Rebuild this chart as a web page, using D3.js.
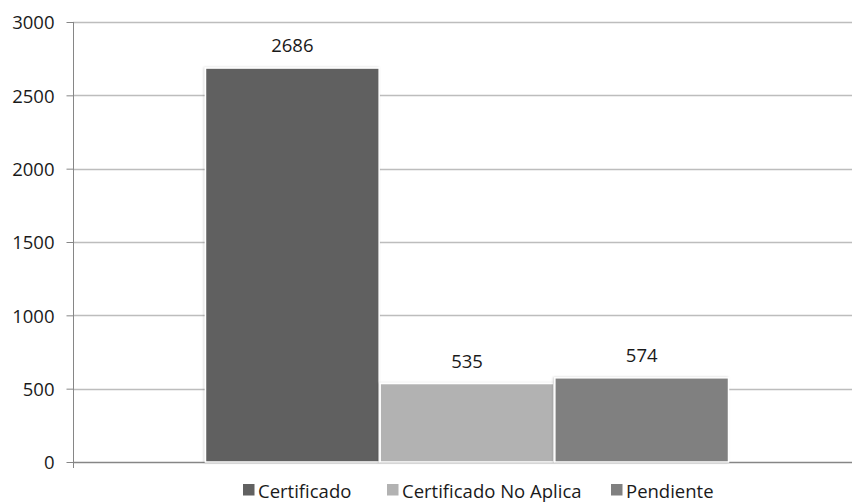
<!DOCTYPE html>
<html><head><meta charset="utf-8">
<script src="https://cdn.jsdelivr.net/npm/d3@7"></script>
<style>body{margin:0;background:#fff}svg{display:block}text{font-family:"Open Sans",sans-serif;fill:#1a1a1a}</style>
</head><body><svg id="c" width="852" height="502"></svg>
<script>
const categories = [""];
const seriesNames = ["Certificado", "Certificado No Aplica", "Pendiente"];
const seriesValues = [2686, 535, 574];
const seriesColors = ["#616161", "#b2b2b2", "#808080"];
const yTicks = [0, 500, 1000, 1500, 2000, 2500, 3000];

(function(){
const svg = d3.select("#c");
const pL = 73, pR = 861, pT = 22, pB = 462;
const fs = "18.5px";
const y = d3.scaleLinear().domain([0, 3000]).range([pB, pT]);
const x0 = d3.scaleBand().domain(categories).range([pL, pR]).paddingInner(0.2012).paddingOuter(0.2012);
const x1 = d3.scaleBand().domain(seriesNames).range([0, x0.bandwidth()]).padding(0);

const defs = svg.append("defs");
const f = defs.append("filter").attr("id","sh").attr("x","-5%").attr("y","-5%").attr("width","110%").attr("height","110%");
f.append("feDropShadow").attr("dx",-1).attr("dy",0).attr("stdDeviation",1.2).attr("flood-color","#000").attr("flood-opacity",0.18);

svg.append("g").selectAll("line").data(yTicks.filter(d=>d>0)).join("line")
  .attr("x1", pL).attr("x2", 852).attr("y1", d=>Math.round(y(d))+0.5).attr("y2", d=>Math.round(y(d))+0.5)
  .attr("stroke", "#bdbdbd").attr("stroke-width", 1.3);

const ya = svg.append("g").attr("transform", `translate(${pL+0.5},0)`)
  .call(d3.axisLeft(y).tickValues(yTicks).tickSize(7).tickPadding(12).tickFormat(d3.format("d")));
ya.select(".domain").attr("stroke","#868686").attr("d", `M0,${pT}V${pB+6}`);
ya.selectAll(".tick line").attr("stroke","#868686");
ya.selectAll(".tick text").style("font-size",fs).attr("fill","#1a1a1a").attr("dy","0.36em");

svg.append("line").attr("x1", pL).attr("x2", 852).attr("y1", pB+0.5).attr("y2", pB+0.5).attr("stroke","#868686").attr("stroke-width",1.3);

const g = svg.append("g").attr("transform", `translate(${x0(categories[0])},0)`);
g.selectAll("rect").data(seriesValues).join("rect")
  .attr("x", (d,i)=>x1(seriesNames[i])+0.5)
  .attr("y", d=>y(d))
  .attr("width", x1.bandwidth()-1)
  .attr("height", d=>pB - y(d))
  .attr("fill", (d,i)=>seriesColors[i])
  .attr("stroke", "#fff").attr("stroke-width", 1.5)
  .attr("filter","url(#sh)");

g.selectAll("text.v").data(seriesValues).join("text").attr("class","v")
  .attr("x", (d,i)=>x1(seriesNames[i]) + x1.bandwidth()/2)
  .attr("y", d=>y(d) - 16)
  .attr("text-anchor","middle").style("font-size",fs)
  .text(d=>d);

const legX = [243, 387, 611];
const lg = svg.append("g");
seriesNames.forEach((n,i)=>{
  lg.append("rect").attr("x", legX[i]).attr("y", 484).attr("width", 11.5).attr("height", 11.5).attr("fill", seriesColors[i]);
  lg.append("text").attr("x", legX[i]+15).attr("y", 498).style("font-size",fs).text(n);
});
})();
</script></body></html>
